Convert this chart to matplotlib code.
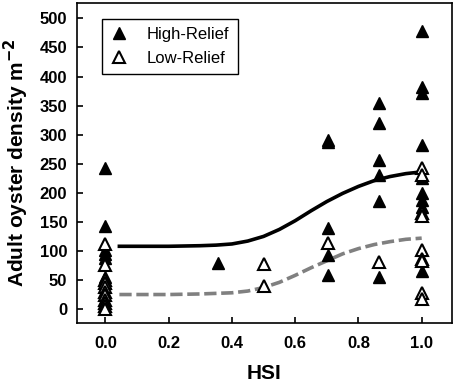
import matplotlib
matplotlib.use('Agg')
import matplotlib.pyplot as plt

plt.rcParams['font.family'] = ['Liberation Sans', 'DejaVu Sans']

# Data
high_x = [0.0, 0.0, 0.0, 0.0, 0.0, 0.0, 0.0,
          0.355,
          0.705, 0.705, 0.705, 0.705, 0.705,
          0.865, 0.865, 0.865, 0.865, 0.865, 0.865,
          1.0, 1.0, 1.0, 1.0, 1.0, 1.0, 1.0, 1.0, 1.0]
high_y = [242, 143, 102, 95, 88, 55, 45,
          80,
          291, 287, 139, 93, 59,
          354, 320, 257, 230, 186, 56,
          478, 382, 372, 283, 225, 199, 188, 176, 66]

low_x = [0.0, 0.0, 0.0, 0.0, 0.0, 0.0, 0.0, 0.0, 0.0, 0.0, 0.0,
         0.5, 0.5,
         0.705,
         0.865,
         1.0, 1.0, 1.0, 1.0, 1.0, 1.0, 1.0, 1.0, 1.0]
low_y = [112, 75, 50, 45, 38, 30, 25, 15, 10, 5, 0,
         78, 40,
         113,
         81,
         242, 230, 165, 160, 101, 86, 82, 27, 18]

# fitted curves, sampled from the figure
curve_x = [0.044, 0.1, 0.2, 0.3, 0.35, 0.4, 0.45, 0.5, 0.55, 0.6,
           0.65, 0.7, 0.75, 0.8, 0.85, 0.9, 0.95, 1.0]
high_fit = [108, 108, 108, 109, 110, 112, 117, 125, 137, 152,
            169, 185, 199, 211, 221, 228, 233, 236]
low_fit = [25, 25, 25, 26, 27, 28, 31, 37, 46, 58,
           71, 83, 95, 104, 111, 116, 120, 122]

fig = plt.figure(figsize=(4.54, 3.85), dpi=100)
ax = fig.add_axes([0.1696, 0.161, 0.8254, 0.8304])

ax.plot(curve_x, high_fit, color='black', linewidth=2.6, zorder=2)
ax.plot(curve_x, low_fit, color='#808080', linewidth=2.6,
        linestyle=(0, (3.4, 1.3)), zorder=2)

ax.plot(high_x, high_y, linestyle='none', marker='^', markersize=9,
        markerfacecolor='black', markeredgecolor='black', label='High-Relief', zorder=3)
ax.plot(low_x, low_y, linestyle='none', marker='^', markersize=9,
        markerfacecolor='white', markeredgecolor='black', markeredgewidth=1.5,
        label='Low-Relief', zorder=3)

ax.set_xlim(-0.09, 1.095)
ax.set_ylim(-24, 526)
ax.set_xticks([0.0, 0.2, 0.4, 0.6, 0.8, 1.0])
ax.set_xticklabels(['0.0', '0.2', '0.4', '0.6', '0.8', '1.0'])
ax.set_yticks(range(0, 501, 50))

for s in ax.spines.values():
    s.set_linewidth(1.2)
ax.tick_params(axis='both', direction='in', length=4, width=1.2, labelsize=12)
ax.tick_params(axis='x', pad=9)
ax.tick_params(axis='y', pad=7)
for lab in ax.get_xticklabels() + ax.get_yticklabels():
    lab.set_fontweight('bold')

ax.set_xlabel('HSI', fontsize=15, fontweight='bold', labelpad=10)
ax.set_ylabel('Adult oyster density m$^{\\mathbf{-2}}$', fontsize=15,
              fontweight='bold', labelpad=6)

leg = ax.legend(loc='upper left', bbox_to_anchor=(0.067, 0.951), borderaxespad=0,
                fontsize=12, fancybox=False, edgecolor='black', framealpha=1,
                handlelength=1.0, handletextpad=1.2, labelspacing=0.5,
                borderpad=0.5)
leg.get_frame().set_linewidth(1.0)

fig.savefig('out.png', dpi=100)
